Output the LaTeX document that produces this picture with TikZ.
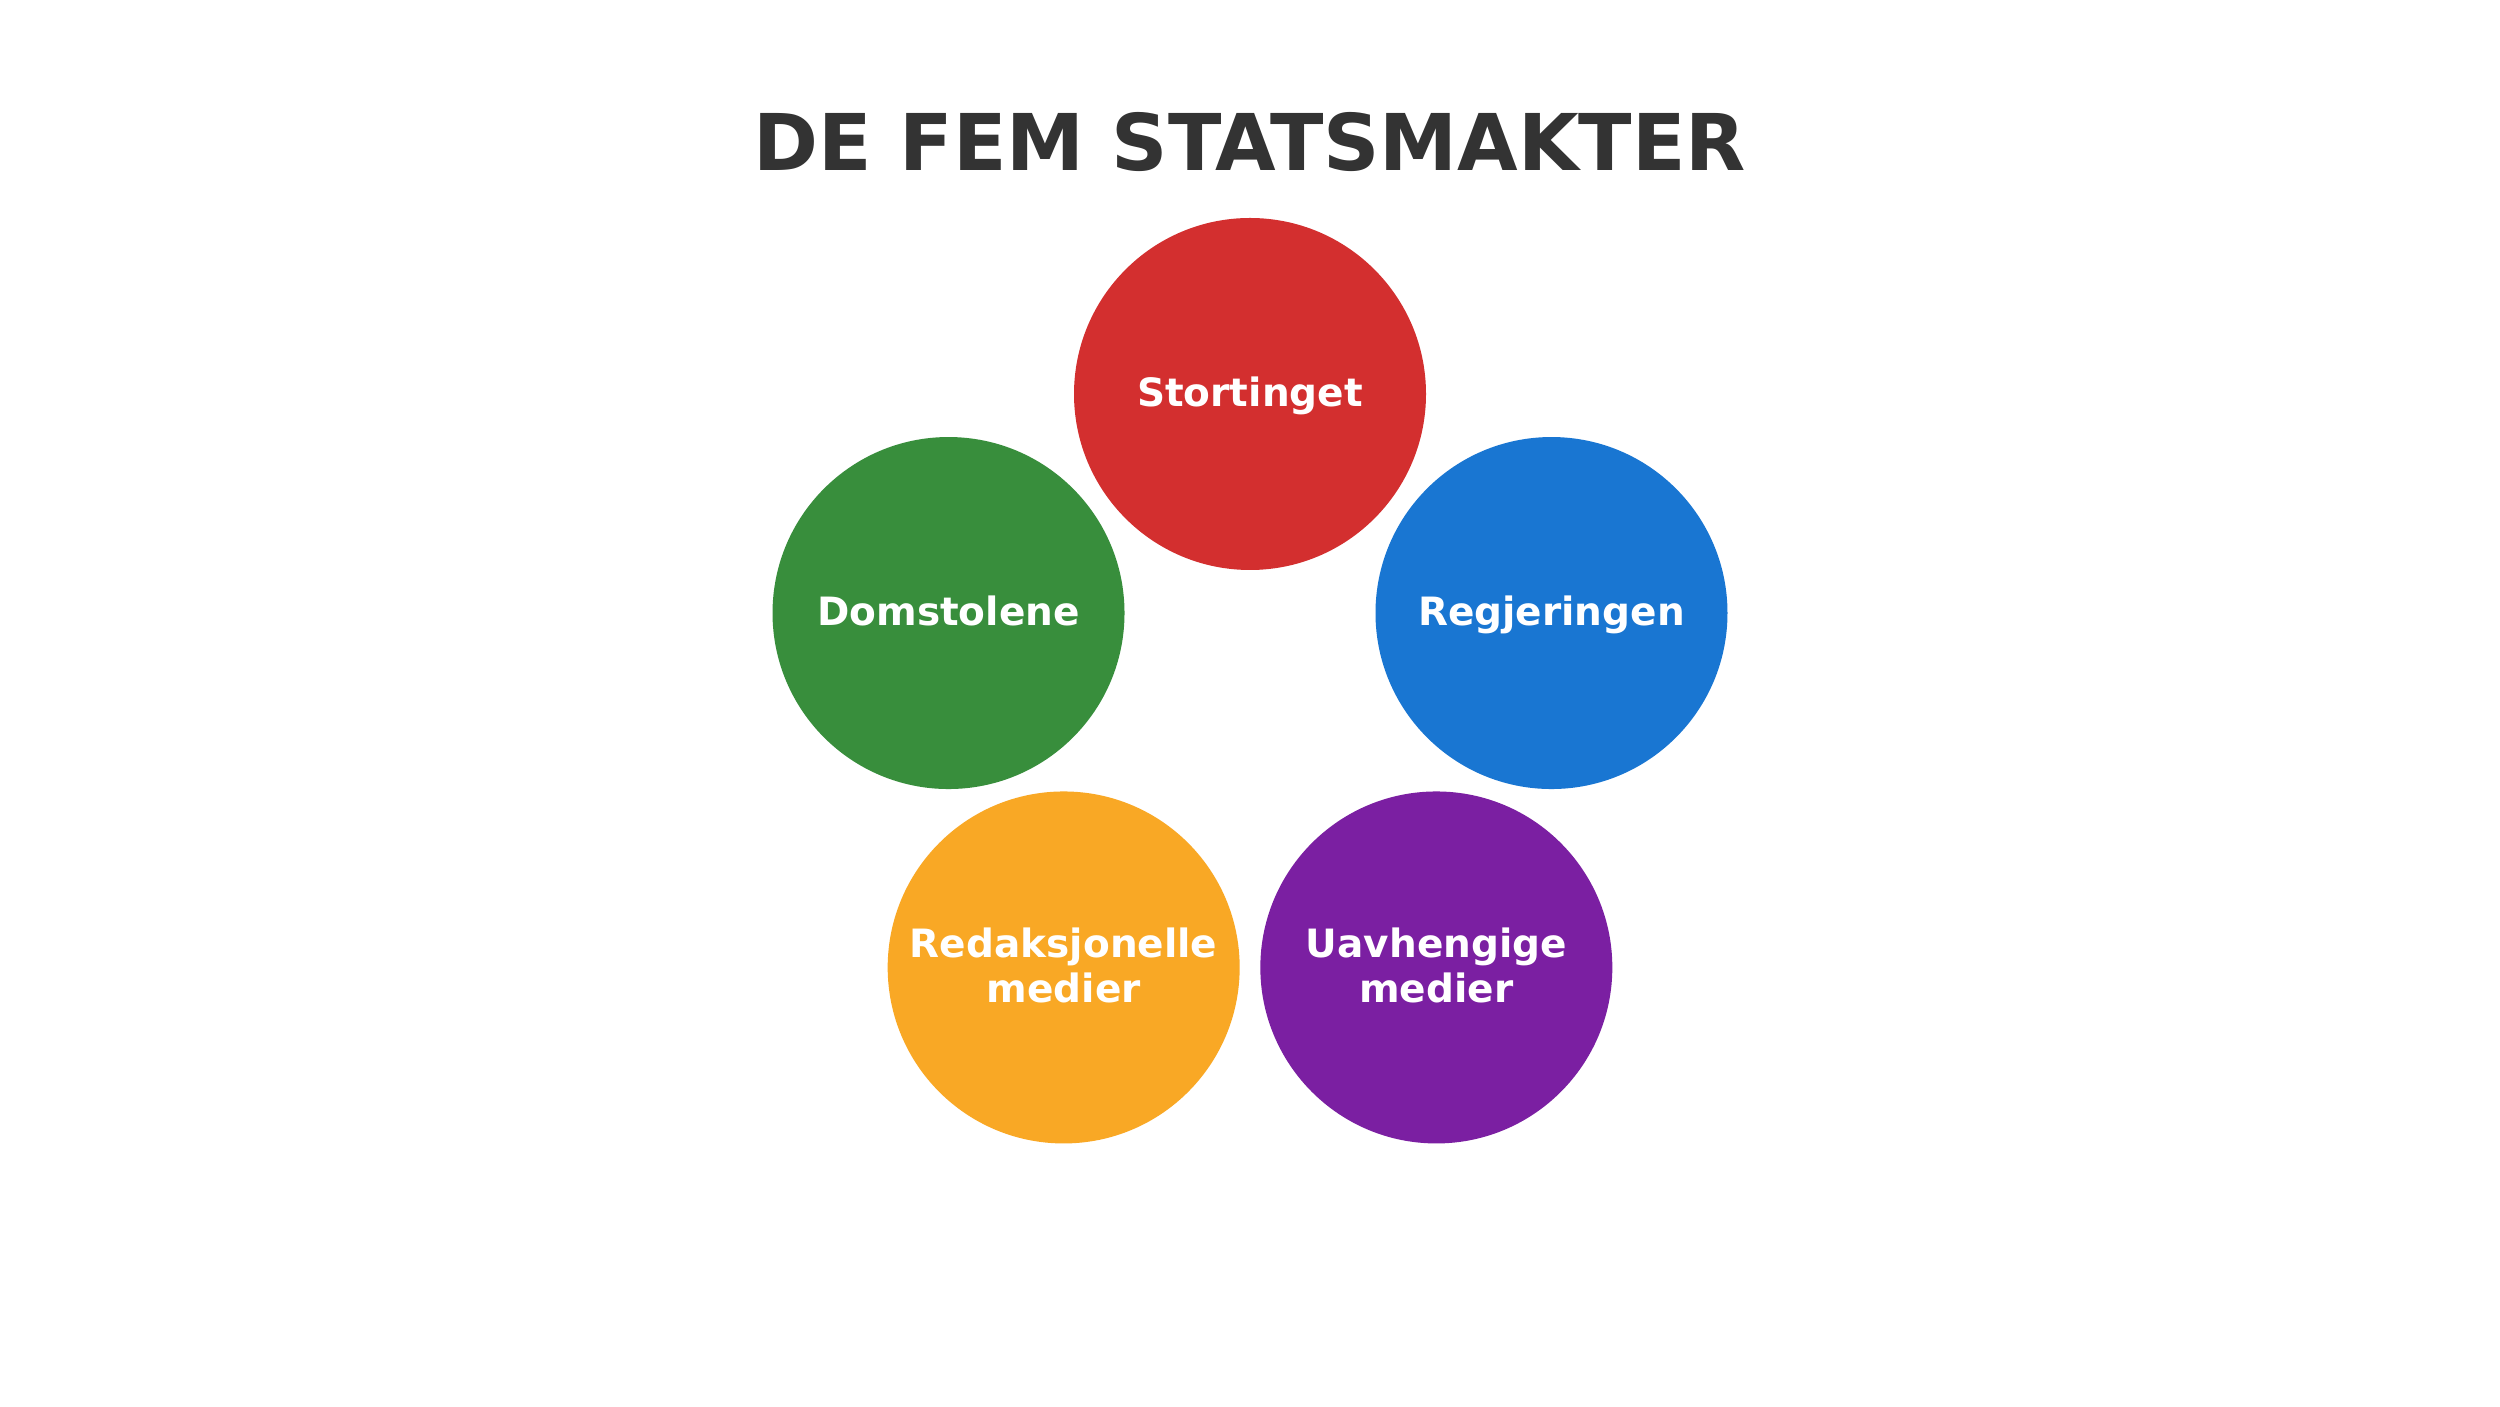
\documentclass[tikz,border=0pt]{standalone}
\usepackage{fontspec}
\setmainfont{DejaVu Sans}
\usetikzlibrary{calc}
\definecolor{titlegray}{HTML}{333333}
\definecolor{cred}{HTML}{D32F2F}
\definecolor{cgreen}{HTML}{388E3C}
\definecolor{cblue}{HTML}{1976D2}
\definecolor{corange}{HTML}{F9A825}
\definecolor{cpurple}{HTML}{7B1FA2}
\newcommand{\lnstrut}{\vrule height 35pt depth 9.5pt width 0pt}
\begin{document}
\begin{tikzpicture}[x=1pt,y=1pt,
  power/.style={circle, minimum size=352pt, inner sep=0pt, draw=none, text=white,
    align=center, font=\bfseries\fontsize{39}{43.3}\selectfont},
  titletext/.style={text=titlegray, font=\bfseries\fontsize{78.3}{90}\selectfont, inner sep=0pt}]
\useasboundingbox (0,0) rectangle (2500,1406);
\fill[white] (0,0) rectangle (2500,1406);
\node[titletext, anchor=base] (title) at (1250,1235) {DE FEM STATSMAKTER};
\coordinate (c) at (1250,695);
\node[power, fill=cred] (sto) at ($(c)+(90:317)$) {\lnstrut Stortinget};
\node[power, fill=cgreen] (dom) at ($(c)+(162:317)$) {\lnstrut Domstolene};
\node[power, fill=cblue] (reg) at ($(c)+(18:317)$) {\lnstrut Regjeringen};
\node[power, fill=corange] (red) at ($(c)+(234:317)$) {\lnstrut Redaksjonelle\\\lnstrut medier};
\node[power, fill=cpurple] (uav) at ($(c)+(306:317)$) {\lnstrut Uavhengige\\\lnstrut medier};
\end{tikzpicture}
\end{document}
